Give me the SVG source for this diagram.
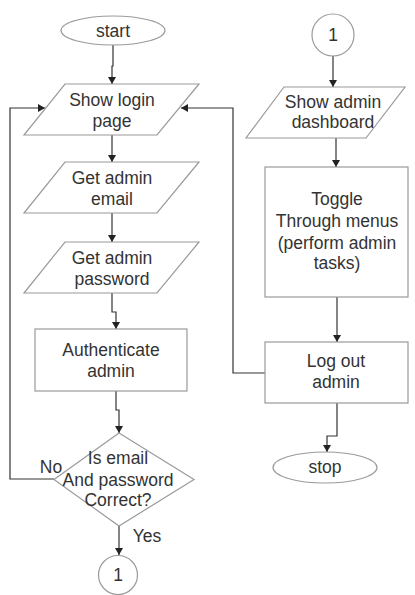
<svg xmlns="http://www.w3.org/2000/svg" width="415" height="595" viewBox="0 0 415 595">
<defs>
<marker id="arr" markerWidth="8" markerHeight="10" refX="7" refY="5" orient="auto" markerUnits="userSpaceOnUse">
<path d="M0,1 L7,5 L0,9 Z" fill="#222"/>
</marker>
<style>
.shape{fill:#fff;stroke:#9a9a9a;stroke-width:1.2}
.conn{fill:none;stroke:#333;stroke-width:1.2;marker-end:url(#arr)}
text{font-family:"Liberation Sans",Arial,sans-serif;font-size:17.5px;fill:#333;text-anchor:middle}
</style>
</defs>
<rect width="415" height="595" fill="#fff"/>
<g id="connectors">
<path class="conn" d="M113,45 V66 H112 V84"/>
<path class="conn" d="M112,135 V162"/>
<path class="conn" d="M112,213 V242"/>
<path class="conn" d="M112,293 V312 H116 V329"/>
<path class="conn" d="M116,391 V410 H119 V433"/>
<path class="conn" d="M54,479 H10 V108 H45"/>
<path class="conn" d="M119,526 V555"/>
<path class="conn" d="M333,56 V87"/>
<path class="conn" d="M336,138 V167"/>
<path class="conn" d="M337,297 V342"/>
<path class="conn" d="M265,373 H233 V108 H181"/>
<path class="conn" d="M337,403 V436 H327 V452"/>
</g>
<g id="start">
<ellipse class="shape" cx="113" cy="30.5" rx="52" ry="14.5"/>
<text x="113" y="37">start</text>
</g>
<g id="show-login">
<polygon class="shape" points="65,84 199,84 157,135 24,135"/>
<text x="112" y="106">Show login</text>
<text x="112" y="127">page</text>
</g>
<g id="get-email">
<polygon class="shape" points="65,162 199,162 157,213 24,213"/>
<text x="112" y="184">Get admin</text>
<text x="112" y="205">email</text>
</g>
<g id="get-password">
<polygon class="shape" points="65,242 199,242 157,293 24,293"/>
<text x="112" y="264">Get admin</text>
<text x="112" y="285">password</text>
</g>
<g id="authenticate">
<rect class="shape" x="35" y="329" width="152" height="62"/>
<text x="111" y="356">Authenticate</text>
<text x="111" y="377">admin</text>
</g>
<g id="decision">
<polygon class="shape" points="119,433 194,479.5 119,526 54,479.5"/>
<text x="118" y="464">Is email</text>
<text x="118" y="485.5">And password</text>
<text x="118" y="506">Correct?</text>
<text x="51" y="473">No</text>
<text x="147" y="542">Yes</text>
</g>
<g id="connector-1-bottom">
<circle class="shape" cx="118" cy="575" r="19.5"/>
<text x="118" y="581">1</text>
</g>
<g id="connector-1-top">
<circle class="shape" cx="333" cy="35" r="21"/>
<text x="333" y="41">1</text>
</g>
<g id="show-dashboard">
<polygon class="shape" points="284,87 405,87 366,138 246,138"/>
<text x="333" y="108">Show admin</text>
<text x="333" y="128">dashboard</text>
</g>
<g id="toggle">
<rect class="shape" x="265" y="167" width="143" height="130"/>
<text x="337" y="205">Toggle</text>
<text x="337" y="227">Through menus</text>
<text x="337" y="249">(perform admin</text>
<text x="337" y="269">tasks)</text>
</g>
<g id="logout">
<rect class="shape" x="265" y="342" width="143" height="61"/>
<text x="336" y="367">Log out</text>
<text x="336" y="388">admin</text>
</g>
<g id="stop">
<ellipse class="shape" cx="325" cy="467.5" rx="52" ry="15.5"/>
<text x="325" y="473">stop</text>
</g>
</svg>
